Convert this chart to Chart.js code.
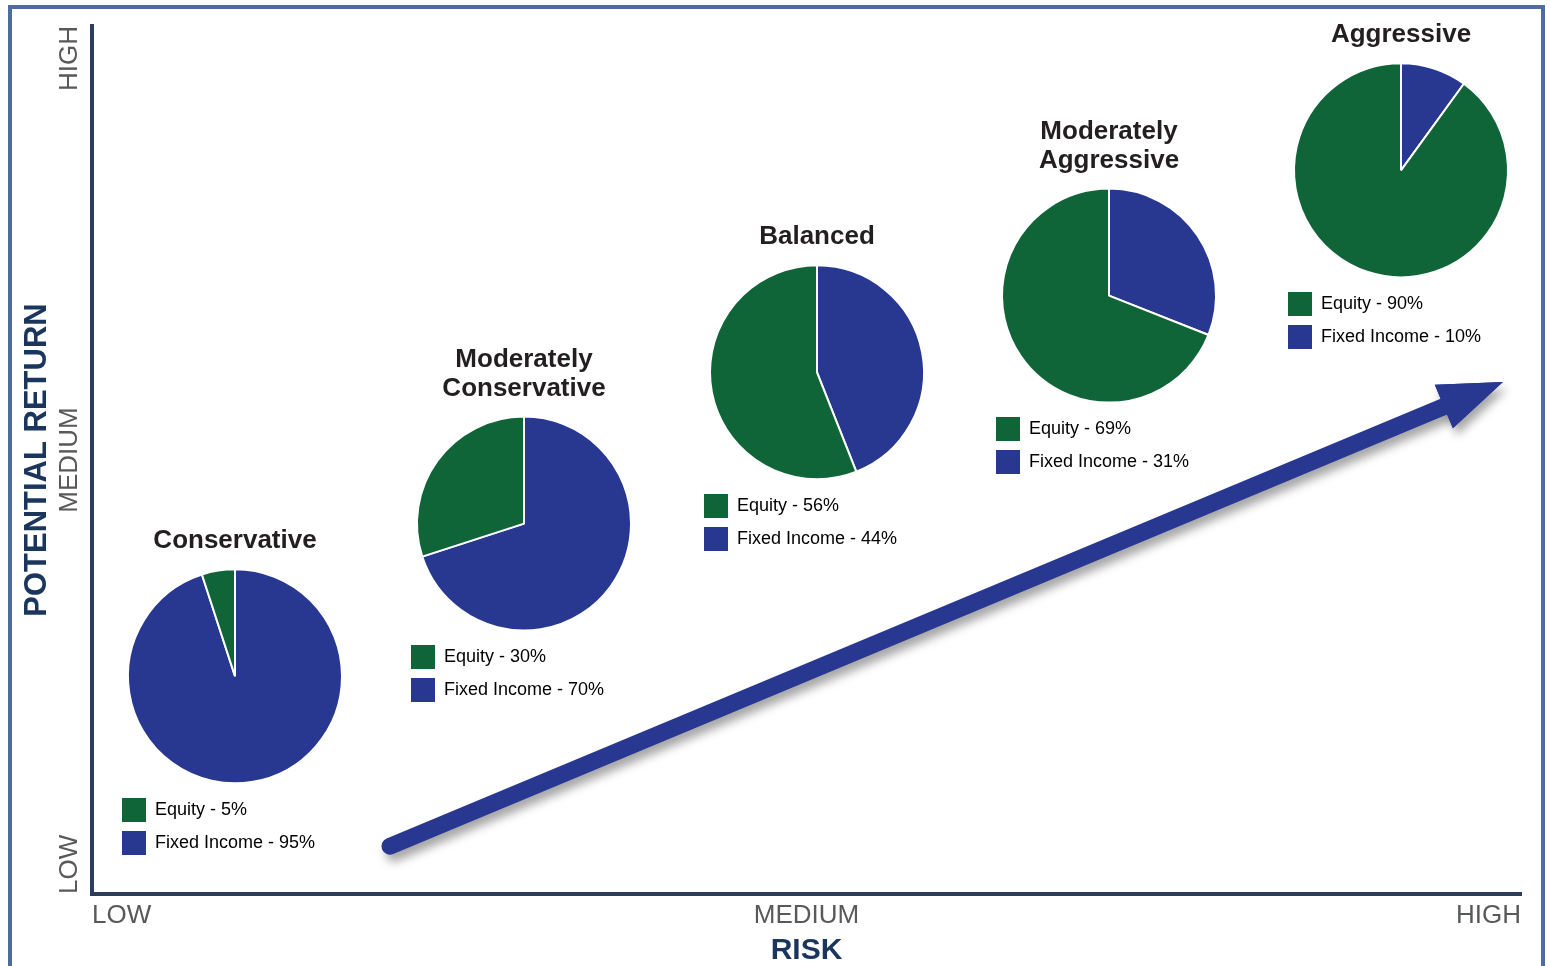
<!DOCTYPE html>
<html>
<head>
<meta charset="utf-8">
<title>Risk vs Potential Return</title>
<script src="https://cdn.jsdelivr.net/npm/chart.js@4.4.1/dist/chart.umd.min.js"></script>
<style>
  html, body { margin: 0; padding: 0; background: #fff; overflow: hidden; }
  #stage { position: relative; width: 1551px; height: 966px; overflow: hidden; }
  #frame { position: absolute; left: 8px; top: 5px; width: 1529px; height: 1000px; border: 4px solid #4d6d9d; }
  #main { position: absolute; left: 0; top: 0; }
  .pie { position: absolute; left: 0; top: 0; }
  .pie canvas { display: block; }
</style>
</head>
<body>
<div id="stage">
  <div id="frame"></div>
  <canvas id="main" width="1551" height="966"></canvas>
</div>
<script>
const portfolios = ["Conservative", "Moderately Conservative", "Balanced", "Moderately Aggressive", "Aggressive"];
const equity = [5, 30, 56, 69, 90];
const fixedIncome = [95, 70, 44, 31, 10];
// where each portfolio sits on the risk / return plane (0 = low, 1 = high)
const riskLevel = [0.100, 0.302, 0.507, 0.712, 0.916];
const returnLevel = [0.251, 0.427, 0.601, 0.689, 0.834];

const riskTicks = [0, 0.5, 1];
const riskLabels = ["LOW", "MEDIUM", "HIGH"];
const returnTicks = [0, 0.5, 1];
const returnLabels = ["LOW", "MEDIUM", "HIGH"];

// trend arrow: tail -> base of the head
const arrowRisk = [0.2085, 0.946];
const arrowReturn = [0.055, 0.5616];

const BLUE = "#283891";
const GREEN = "#0f6538";
const NAVY = "#2c3b5e";
const GREY = "#58595b";
const SANS = "'Liberation Sans', Arial, Helvetica, sans-serif";

function setShadow(ctx) {
  ctx.shadowColor = "rgba(0, 0, 0, 0.35)";
  ctx.shadowBlur = 10;
  ctx.shadowOffsetX = 4;
  ctx.shadowOffsetY = 7;
}

function drawHead(chart, ctx) {
  const pts = chart.getDatasetMeta(0).data;
  const a = pts[0], b = pts[pts.length - 1];
  const ang = Math.atan2(b.y - a.y, b.x - a.x);
  ctx.save();
  ctx.translate(b.x, b.y);
  ctx.rotate(ang);
  ctx.beginPath();
  ctx.moveTo(64, 0);
  ctx.lineTo(0, -23.5);
  ctx.lineTo(0, 23.5);
  ctx.closePath();
  ctx.fillStyle = BLUE;
  ctx.fill();
  ctx.restore();
}

// arrow head + drop shadow for the trend line
const arrowHead = {
  id: "arrowHead",
  beforeDatasetDraw(chart, args) {
    if (args.index !== 0) return;
    const ctx = chart.ctx;
    ctx.save();
    setShadow(ctx);
    drawHead(chart, ctx);
  },
  afterDatasetDraw(chart, args) {
    if (args.index !== 0) return;
    const ctx = chart.ctx;
    ctx.restore();
    drawHead(chart, ctx);
  }
};

// vertical LOW / MEDIUM / HIGH labels along the return axis
const returnTickLabels = {
  id: "returnTickLabels",
  afterDraw(chart) {
    const y = chart.scales.y, ctx = chart.ctx;
    ctx.save();
    ctx.font = "26px " + SANS;
    ctx.fillStyle = GREY;
    ctx.textBaseline = "middle";
    returnTicks.forEach((v, i) => {
      ctx.save();
      ctx.translate(y.right - 22, y.getPixelForValue(v));
      ctx.rotate(-Math.PI / 2);
      ctx.textAlign = i === 0 ? "left" : (i === returnTicks.length - 1 ? "right" : "center");
      ctx.fillText(returnLabels[i], 0, 0);
      ctx.restore();
    });
    ctx.restore();
  }
};

const main = new Chart(document.getElementById("main"), {
  type: "scatter",
  data: {
    datasets: [{
      data: arrowRisk.map((x, i) => ({ x: x, y: arrowReturn[i] })),
      showLine: true,
      borderColor: BLUE,
      borderWidth: 17,
      borderCapStyle: "round",
      pointRadius: 0,
      fill: false
    }]
  },
  options: {
    responsive: false,
    animation: false,
    events: [],
    layout: { padding: { left: 0, top: 26, right: 30, bottom: 0 } },
    plugins: { legend: { display: false }, tooltip: { enabled: false } },
    scales: {
      x: {
        type: "linear", min: 0, max: 1,
        grid: { display: false, drawTicks: false },
        border: { color: NAVY, width: 4 },
        afterBuildTicks: s => { s.ticks = riskTicks.map(v => ({ value: v })); },
        afterFit: s => { s.height = 72; },
        ticks: {
          callback: (v, i) => riskLabels[i],
          align: "inner", padding: 6, maxRotation: 0, autoSkip: false,
          color: GREY, font: { family: SANS, size: 26 }
        },
        title: {
          display: true, text: "RISK", color: "#1b365d",
          font: { family: SANS, size: 30, weight: "bold", lineHeight: 1 },
          padding: 0
        }
      },
      y: {
        type: "linear", min: 0, max: 1,
        grid: { display: false, drawTicks: false },
        border: { color: NAVY, width: 4 },
        afterBuildTicks: s => { s.ticks = returnTicks.map(v => ({ value: v })); },
        afterFit: s => { s.width = 92; },
        ticks: { display: false },
        title: {
          display: true, text: "POTENTIAL RETURN", color: "#1b365d",
          font: { family: SANS, size: 31, weight: "bold", lineHeight: 1 },
          padding: { top: 22, bottom: 0 }
        }
      }
    }
  },
  plugins: [arrowHead, returnTickLabels]
});

const stage = document.getElementById("stage");

portfolios.forEach((name, i) => {
  const lines = name.split(" ");
  const wrap = document.createElement("div");
  wrap.className = "pie";
  const canvas = document.createElement("canvas");
  canvas.width = 244;
  canvas.height = Math.round(lines.length * 28.6 + 8 + 226 + 75);
  wrap.appendChild(canvas);
  stage.appendChild(wrap);

  const chart = new Chart(canvas, {
    type: "pie",
    data: {
      labels: ["Fixed Income", "Equity"],
      datasets: [{
        data: [fixedIncome[i], equity[i]],
        backgroundColor: [BLUE, GREEN],
        borderColor: "#ffffff",
        borderWidth: 2,
        radius: 107
      }]
    },
    options: {
      responsive: false,
      animation: false,
      events: [],
      layout: { padding: 0 },
      plugins: {
        tooltip: { enabled: false },
        title: {
          display: true,
          text: lines,
          color: "#231f20",
          font: { family: SANS, size: 26, weight: "bold", lineHeight: 1.1 },
          padding: { top: 0, bottom: 8 }
        },
        legend: {
          position: "bottom",
          align: "start",
          labels: {
            boxWidth: 24,
            boxHeight: 24,
            padding: 9,
            color: "#2b2b2b",
            font: { family: SANS, size: 18 },
            generateLabels: () => [
              { text: "Equity - " + equity[i] + "%", fillStyle: GREEN, strokeStyle: GREEN, lineWidth: 0, hidden: false, index: 1 },
              { text: "Fixed Income - " + fixedIncome[i] + "%", fillStyle: BLUE, strokeStyle: BLUE, lineWidth: 0, hidden: false, index: 0 }
            ]
          }
        }
      }
    }
  });

  const arc = chart.getDatasetMeta(0).data[0];
  wrap.style.left = (main.scales.x.getPixelForValue(riskLevel[i]) - arc.x) + "px";
  wrap.style.top = (main.scales.y.getPixelForValue(returnLevel[i]) - arc.y) + "px";
});
</script>
</body>
</html>
